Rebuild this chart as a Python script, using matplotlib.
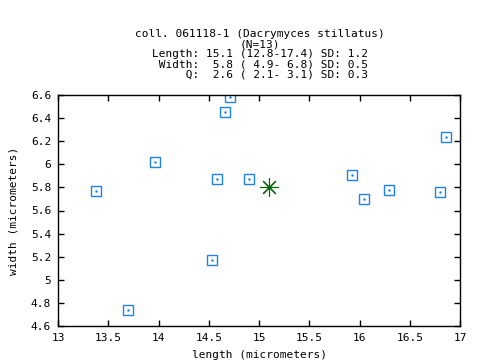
import matplotlib
matplotlib.use("Agg")
import matplotlib.pyplot as plt

# spore measurements (micrometers)
length = [13.38, 13.97, 13.70, 14.53, 14.58, 14.66, 14.71, 14.90,
          15.93, 16.04, 16.29, 16.80, 16.86]
width = [5.77, 6.02, 4.74, 5.17, 5.87, 6.45, 6.58, 5.87,
         5.91, 5.70, 5.78, 5.76, 6.24]
mean_length = 15.1
mean_width = 5.8

title_lines = [
    "coll. 061118-1 (Dacrymyces stillatus)",
    "(N=13)",
    "Length: 15.1 (12.8-17.4) SD: 1.2",
    " Width:  5.8 ( 4.9- 6.8) SD: 0.5",
    "     Q:  2.6 ( 2.1- 3.1) SD: 0.3",
]
xticks = [13, 13.5, 14, 14.5, 15, 15.5, 16, 16.5, 17]
yticks = [4.6, 4.8, 5, 5.2, 5.4, 5.6, 5.8, 6, 6.2, 6.4, 6.6]

plt.rcParams['font.family'] = ['DejaVu Sans Mono']
plt.rcParams['font.size'] = 8

fig = plt.figure(figsize=(4.8, 3.6), dpi=100)
ax = fig.add_axes([58 / 480, 34 / 360, 402 / 480, 231 / 360])

blue = "#1e82e6"
ax.plot(length, width, linestyle="none", marker="s", markersize=7.2,
        markerfacecolor="none", markeredgecolor=blue, markeredgewidth=1.0)
ax.plot(length, width, linestyle="none", marker=".", markersize=1.5, color=blue)
ax.plot([mean_length], [mean_width], linestyle="none", marker=(8, 2, 0),
        markersize=13, color="#006400", markeredgewidth=0.8)

ax.set_xlim(13, 17)
ax.set_ylim(4.6, 6.6)
ax.set_xticks(xticks)
ax.set_xticklabels([f"{v:g}" for v in xticks])
ax.set_yticks(yticks)
ax.set_yticklabels([f"{v:g}" for v in yticks])
ax.tick_params(direction="in", length=4, width=1, top=True, right=True,
               labelsize=8, pad=5)
for s in ax.spines.values():
    s.set_linewidth(1.0)

ax.set_xlabel("length (micrometers)", fontsize=8, labelpad=5)
ax.set_ylabel("width (micrometers)", fontsize=8, labelpad=9)

for i, line in enumerate(title_lines):
    fig.text(260 / 480, 1 - (34 + 10.2 * i) / 360, line, ha="center",
             va="center", fontsize=8)

fig.savefig("out.png", dpi=100)
